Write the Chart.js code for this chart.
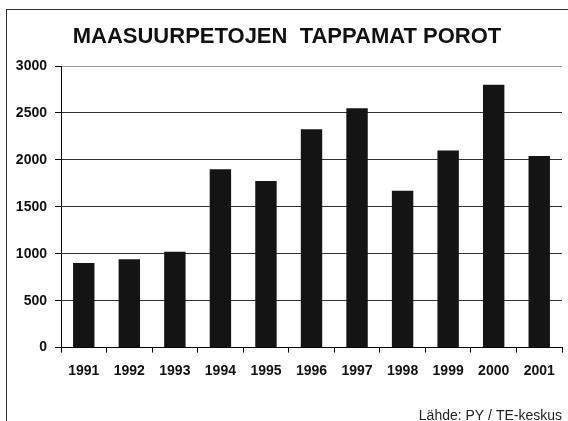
<!DOCTYPE html>
<html>
<head>
<meta charset="utf-8">
<script src="https://cdn.jsdelivr.net/npm/chart.js@4"></script>
<style>
  html, body { margin: 0; padding: 0; background: #fff; overflow: hidden; }
  #wrap { position: relative; width: 568px; height: 421px; }
  #frame { position: absolute; left: 6px; top: 9px; width: 600px; height: 450px; border: 1.5px solid #333; box-sizing: border-box; pointer-events: none; }
  canvas { position: absolute; left: 0; top: 0; }
</style>
</head>
<body>
<div id="wrap">
  <canvas id="c" width="568" height="421"></canvas>
  <div id="frame"></div>
</div>
<script>
const titleText = "MAASUURPETOJEN  TAPPAMAT POROT";
const sourceText = "Lähde: PY / TE-keskus";
const years = ["1991","1992","1993","1994","1995","1996","1997","1998","1999","2000","2001"];
const killedReindeer = [900, 940, 1020, 1900, 1775, 2325, 2550, 1670, 2100, 2800, 2040];
const yTicks = [0, 500, 1000, 1500, 2000, 2500, 3000];

const boldFont = "'Liberation Sans', Arial, sans-serif";

new Chart(document.getElementById('c'), {
  type: 'bar',
  data: {
    labels: years,
    datasets: [{
      data: killedReindeer,
      backgroundColor: '#141414',
      borderWidth: 0,
      barPercentage: 0.47,
      categoryPercentage: 1.0
    }]
  },
  options: {
    responsive: false,
    animation: false,
    layout: { padding: { left: 12, right: 6, top: 0, bottom: -3 } },
    plugins: {
      legend: { display: false },
      tooltip: { enabled: false },
      title: {
        display: true,
        text: titleText,
        color: '#111',
        font: { family: boldFont, size: 22, weight: 'bold', lineHeight: 1.2 },
        padding: { top: 24, bottom: 15.6 }
      },
      subtitle: {
        display: true,
        text: sourceText,
        position: 'bottom',
        align: 'end',
        color: '#222',
        font: { family: boldFont, size: 14, weight: 'normal', lineHeight: 1.1 },
        padding: { top: 0, bottom: 0 }
      }
    },
    scales: {
      x: {
        offset: true,
        grid: {
          offset: true,
          display: true,
          drawOnChartArea: true,
          drawTicks: true,
          tickLength: 5,
          color: (ctx) => ctx.index === years.length ? '#999' : 'rgba(0,0,0,0)',
          tickColor: '#000',
          lineWidth: 1
        },
        border: { display: true, color: '#000', width: 1 },
        ticks: {
          color: '#111',
          font: { family: boldFont, size: 14, weight: 'bold', lineHeight: 1.2 },
          padding: 10,
          maxRotation: 0,
          autoSkip: false
        },
        afterFit: (scale) => { scale.height = 61; }
      },
      y: {
        min: 0,
        max: 3000,
        afterBuildTicks: (scale) => { scale.ticks = yTicks.map(v => ({ value: v })); },
        grid: {
          display: true,
          drawOnChartArea: true,
          drawTicks: true,
          tickLength: 6,
          color: (ctx) => (ctx.tick && ctx.tick.value === 3000) ? '#999' : '#333',
          tickColor: '#000',
          lineWidth: 1
        },
        border: { display: true, color: '#000', width: 1 },
        ticks: {
          color: '#111',
          font: { family: boldFont, size: 14, weight: 'bold', lineHeight: 1.2 },
          padding: 8,
          callback: (v) => String(v)
        },
        afterFit: (scale) => { scale.width = 49; }
      }
    }
  }
});
</script>
</body>
</html>
